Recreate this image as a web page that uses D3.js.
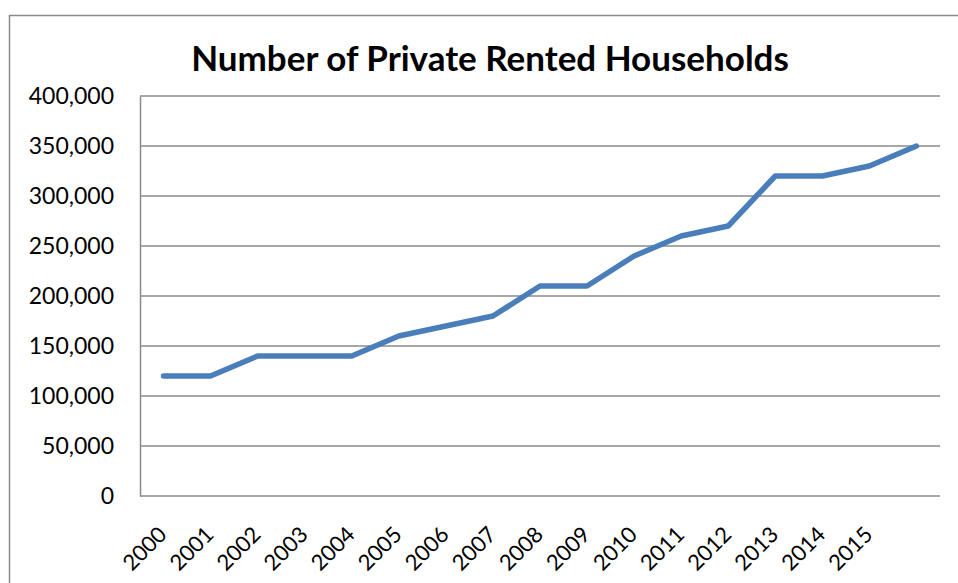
<!DOCTYPE html>
<html><head><meta charset="utf-8">
<script src="https://cdn.jsdelivr.net/npm/d3@7"></script>
<style>html,body{margin:0;padding:0;background:#fff;}svg{display:block;}</style>
</head><body>
<script>
const categories = ["2000","2001","2002","2003","2004","2005","2006","2007","2008","2009","2010","2011","2012","2013","2014","2015","2016"];
const tickLabels = ["2000","2001","2002","2003","2004","2005","2006","2007","2008","2009","2010","2011","2012","2013","2014","2015",""];
const households = [120000,120000,140000,140000,140000,160000,170000,180000,210000,210000,240000,260000,270000,320000,320000,330000,350000];
const yTicks = [0,50000,100000,150000,200000,250000,300000,350000,400000];
const title = "Number of Private Rented Households";

const W = 958, H = 583;
const plot = {left:140, right:940, top:96, bottom:496};
const font = "Lato, 'Open Sans', sans-serif";

const svg = d3.select("body").append("svg").attr("width", W).attr("height", H);

// outer chart border
svg.append("path").attr("d", `M9.5,${H+5} L9.5,15.5 L${W+5},15.5`)
  .attr("fill","none").attr("stroke","#8a8a8a").attr("stroke-width",1.5);

const x = d3.scalePoint().domain(categories).range([plot.left, plot.right]).padding(0.5);
const y = d3.scaleLinear().domain([0,400000]).range([plot.bottom, plot.top]);

// gridlines
svg.append("g").selectAll("line").data(yTicks.filter(d=>d>0)).join("line")
  .attr("x1", plot.left).attr("x2", plot.right)
  .attr("y1", d=>y(d)).attr("y2", d=>y(d))
  .attr("stroke","#8a8a8a").attr("stroke-width",1.5);

// y axis
const yAxis = d3.axisLeft(y).tickValues(yTicks).tickSize(0).tickPadding(26)
  .tickFormat(d3.format(","));
const gy = svg.append("g").attr("transform",`translate(${plot.left},0)`).call(yAxis);
gy.select(".domain").attr("stroke","#8a8a8a").attr("stroke-width",1.5);
gy.selectAll("text").attr("font-family",font).attr("font-size",23).attr("fill","#000");

// x axis
const xAxis = d3.axisBottom(x).tickSize(0).tickFormat((d,i)=>tickLabels[i]);
const gx = svg.append("g").attr("transform",`translate(0,${plot.bottom})`).call(xAxis);
gx.select(".domain").attr("d", `M${plot.left},0H${plot.right}`)
  .attr("stroke","#8a8a8a").attr("stroke-width",1.5);
gx.selectAll("text")
  .attr("font-family",font).attr("font-size",22).attr("fill","#000")
  .attr("text-anchor","end").attr("dy",null).attr("y",null)
  .attr("transform","translate(4,40) rotate(-45)");

// line
const line = d3.line().x((d,i)=>x(categories[i])).y(d=>y(d));
svg.append("path").datum(households)
  .attr("d", line).attr("fill","none")
  .attr("stroke","#4a7ebb").attr("stroke-width",5.5)
  .attr("stroke-linecap","round").attr("stroke-linejoin","round");

// title
svg.append("text").attr("x",490).attr("y",71).attr("text-anchor","middle")
  .attr("font-family",font).attr("font-weight","bold").attr("font-size",35)
  .attr("fill","#000").text(title);
</script>
</body></html>
